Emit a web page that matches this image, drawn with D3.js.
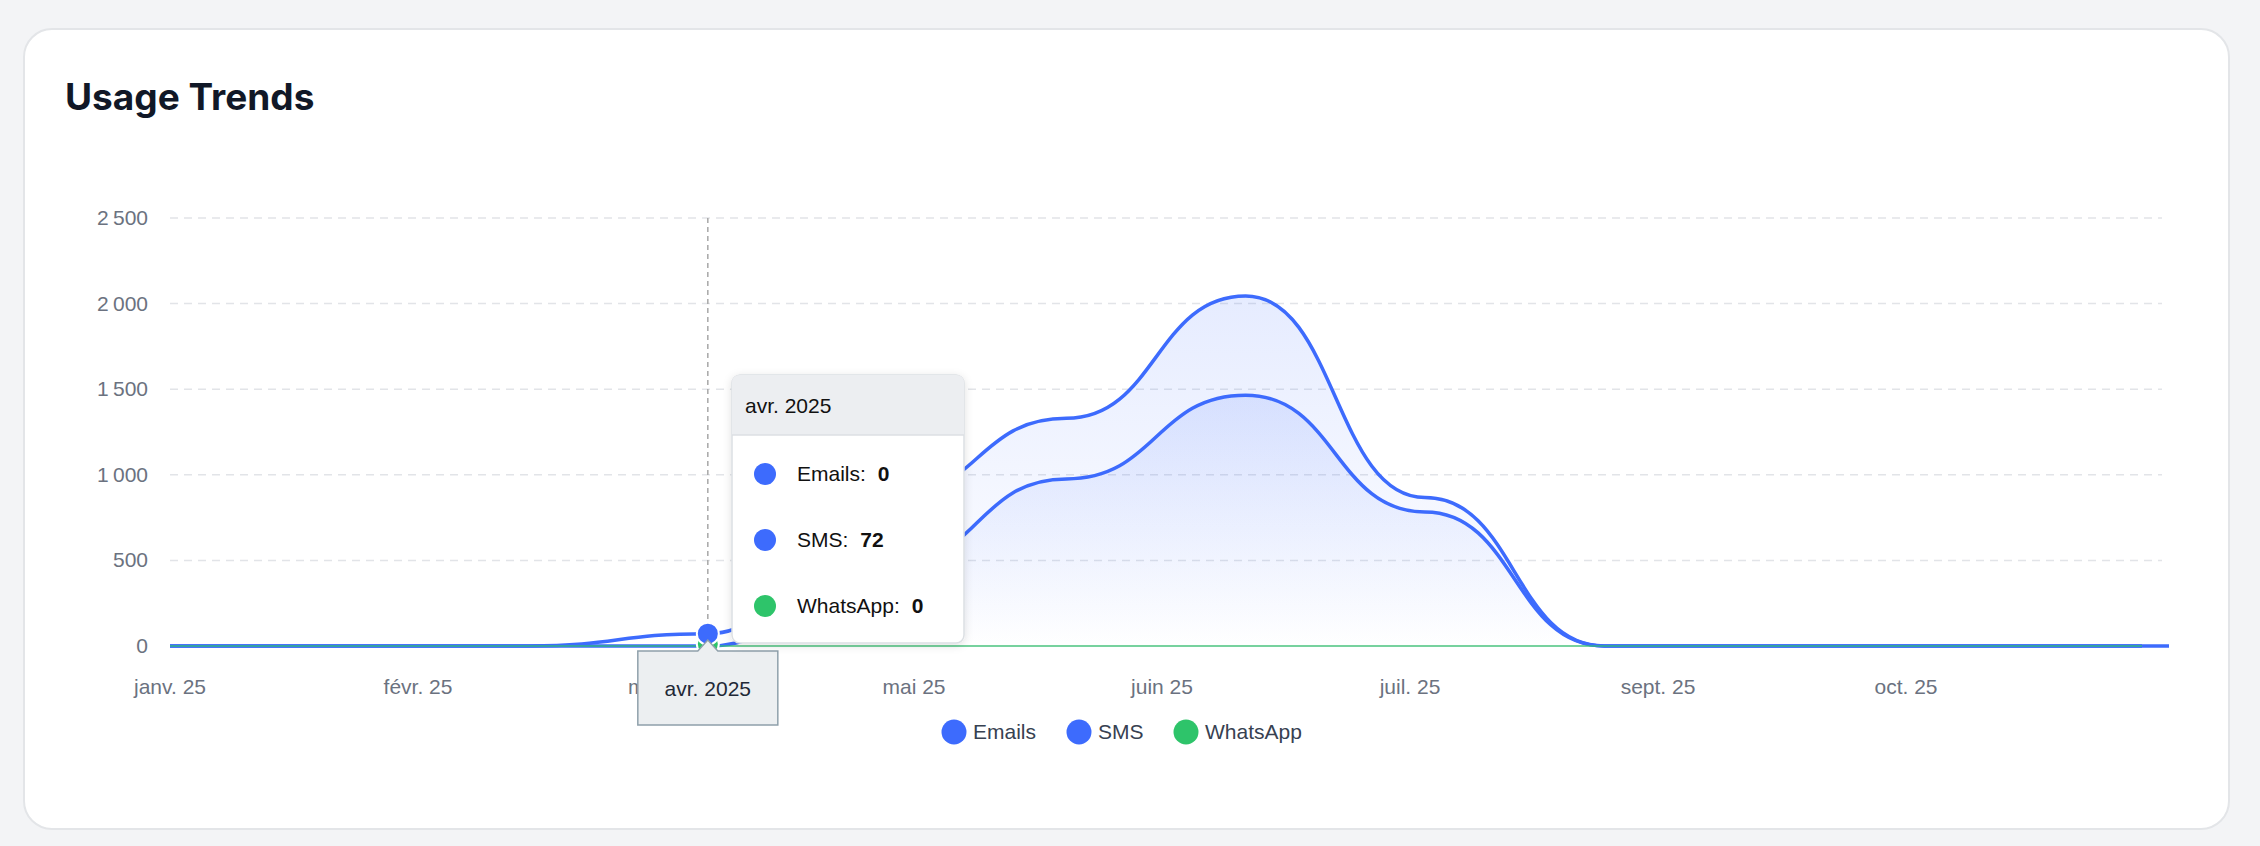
<!DOCTYPE html>
<html>
<head>
<meta charset="utf-8">
<script src="https://cdn.jsdelivr.net/npm/d3@7"></script>
<style>
  body { margin: 0; background: #f3f4f6; font-family: "Liberation Sans", Arial, sans-serif; }
  svg { display: block; }
</style>
</head>
<body>
<svg id="chart" width="2260" height="846"></svg>
<script>
// monthly points, janv. 2025 .. déc. 2025
const months = ["janv. 2025", "févr. 2025", "mars 2025", "avr. 2025", "mai 2025", "juin 2025",
  "juil. 2025", "août 2025", "sept. 2025", "oct. 2025", "nov. 2025", "déc. 2025"];
const emails = [0, 0, 0, 0, 460, 976, 1465, 783, 0, 0, 0, 0];
const sms = [0, 0, 0, 72, 400, 354, 580, 84, 0, 0, 0, 0];
const whatsapp = [0, 0, 0, 0, 0, 0, 0, 0, 0, 0, 0, 0];
const tickLabels = ["janv. 25", "févr. 25", "mars 25", "mai 25", "juin 25", "juil. 25", "sept. 25", "oct. 25"];
const yTicks = [0, 500, 1000, 1500, 2000, 2500];
const hoverIndex = 3;

const blue = "#3d6bfd", green = "#2ec46a";
const svg = d3.select("#chart");

// card
svg.append("rect").attr("x", 24).attr("y", 29).attr("width", 2205).attr("height", 800)
  .attr("rx", 28).attr("fill", "#fff").attr("stroke", "#e3e5e8").attr("stroke-width", 2);
svg.append("text").attr("x", 65).attr("y", 110).text("Usage Trends")
  .attr("font-family", "Inter, 'Liberation Sans', sans-serif").attr("font-weight", 700)
  .attr("font-size", 37).attr("fill", "#111827");

const x = d3.scaleLinear().domain([0, months.length - 1]).range([170, 2142]);
const y = d3.scaleLinear().domain([0, 2500]).range([646, 218]);

const defs = svg.append("defs");
const grad = defs.append("linearGradient").attr("id", "fill").attr("x1", 0).attr("x2", 0).attr("y1", 0).attr("y2", 1);
grad.append("stop").attr("offset", "0%").attr("stop-color", blue).attr("stop-opacity", 0.13);
grad.append("stop").attr("offset", "100%").attr("stop-color", blue).attr("stop-opacity", 0);
const filt = defs.append("filter").attr("id", "shadow").attr("x", "-20%").attr("y", "-20%").attr("width", "140%").attr("height", "140%");
filt.append("feDropShadow").attr("dx", 0).attr("dy", 2).attr("stdDeviation", 4).attr("flood-color", "#000").attr("flood-opacity", 0.12);

// grid + y labels
yTicks.forEach(t => {
  if (t > 0) svg.append("line").attr("x1", 170).attr("x2", 2162).attr("y1", y(t)).attr("y2", y(t))
    .attr("stroke", "#e2e4e8").attr("stroke-width", 1.5).attr("stroke-dasharray", "8,6");
  svg.append("text").attr("x", 148).attr("y", y(t) + 7).attr("text-anchor", "end")
    .attr("font-size", 21).attr("fill", "#6b7280").text(d3.format(",")(t).replace(",", "\u2009"));
});
svg.append("line").attr("x1", 170).attr("x2", 2169).attr("y1", y(0)).attr("y2", y(0)).attr("stroke", "#c9ced6");

// x tick labels, evenly spaced as in the original axis
const tickX = d3.scaleLinear().domain([0, 1]).range([170, 418]);
tickLabels.forEach((l, i) => {
  svg.append("text").attr("x", tickX(i)).attr("y", 694).attr("text-anchor", "middle")
    .attr("font-size", 21).attr("fill", "#6b7280").text(l);
});

// stacked series
const rows = months.map((m, i) => ({ i, emails: emails[i], sms: sms[i] }));
const stacked = d3.stack().keys(["emails", "sms"])(rows);
const curve = d3.curveBumpX;
stacked.forEach(s => {
  svg.append("path").datum(s)
    .attr("d", d3.area().curve(curve).x(d => x(d.data.i)).y0(y(0)).y1(d => y(d[1])))
    .attr("fill", "url(#fill)");
});
stacked.forEach(s => {
  svg.append("path").datum(s)
    .attr("d", d3.line().curve(curve).x(d => x(d.data.i)).y(d => y(d[1])))
    .attr("fill", "none").attr("stroke", blue).attr("stroke-width", 3.5);
});
svg.append("path").datum(whatsapp)
  .attr("d", d3.line().curve(curve).x((d, i) => x(i)).y(d => y(d)))
  .attr("fill", "none").attr("stroke", green).attr("stroke-width", 2).attr("stroke-opacity", 0.6);
svg.append("line").attr("x1", x(months.length - 1)).attr("x2", 2169).attr("y1", y(0)).attr("y2", y(0))
  .attr("stroke", blue).attr("stroke-width", 3.5);

// crosshair
const hx = x(hoverIndex);
svg.append("line").attr("x1", hx).attr("x2", hx).attr("y1", y(2500)).attr("y2", y(0))
  .attr("stroke", "#a7a7a7").attr("stroke-width", 1.5).attr("stroke-dasharray", "5,4");
svg.append("circle").attr("cx", hx).attr("cy", y(whatsapp[hoverIndex]) - 2).attr("r", 11)
  .attr("fill", green).attr("stroke", "#fff").attr("stroke-width", 2);
svg.append("circle").attr("cx", hx).attr("cy", y(emails[hoverIndex] + sms[hoverIndex])).attr("r", 11)
  .attr("fill", blue).attr("stroke", "#fff").attr("stroke-width", 2);

// x tooltip label
const lx = svg.append("g");
lx.append("path").attr("d", `M${hx - 70},651 H${hx - 10} L${hx},640 L${hx + 10},651 H${hx + 70} V725 H${hx - 70} Z`)
  .attr("fill", "#eceff1").attr("stroke", "#8fa0ab").attr("stroke-width", 1.5);
lx.append("text").attr("x", hx).attr("y", 696).attr("text-anchor", "middle")
  .attr("font-size", 21).attr("fill", "#1f2937").text(months[hoverIndex]);

// tooltip
const tip = svg.append("g").attr("transform", "translate(732,375)");
tip.append("rect").attr("width", 232).attr("height", 268).attr("rx", 8)
  .attr("fill", "#fff").attr("stroke", "#dcdfe3").attr("stroke-width", 1.5).attr("filter", "url(#shadow)");
tip.append("path").attr("d", "M0,60 V8 Q0,0 8,0 H224 Q232,0 232,8 V60 Z").attr("fill", "#eceef1");
tip.append("line").attr("x1", 0).attr("x2", 232).attr("y1", 60).attr("y2", 60).attr("stroke", "#dcdfe3").attr("stroke-width", 1.5);
tip.append("text").attr("x", 13).attr("y", 38).attr("font-size", 21).attr("fill", "#111").text(months[hoverIndex]);
const tipRows = [["Emails", emails[hoverIndex], blue], ["SMS", sms[hoverIndex], blue], ["WhatsApp", whatsapp[hoverIndex], green]];
tipRows.forEach((r, i) => {
  const ry = 99 + i * 66;
  tip.append("circle").attr("cx", 33).attr("cy", ry).attr("r", 11).attr("fill", r[2]);
  const t = tip.append("text").attr("x", 65).attr("y", ry + 7).attr("font-size", 21).attr("fill", "#111");
  t.append("tspan").text(r[0] + ":");
  t.append("tspan").attr("dx", 12).attr("font-weight", 700).text(r[1]);
});

// legend
const legend = [["Emails", blue, 954], ["SMS", blue, 1079], ["WhatsApp", green, 1186]];
legend.forEach(l => {
  svg.append("circle").attr("cx", l[2]).attr("cy", 732).attr("r", 12.5).attr("fill", l[1]);
  svg.append("text").attr("x", l[2] + 19).attr("y", 739).attr("font-size", 21).attr("fill", "#374151").text(l[0]);
});
</script>
</body>
</html>
